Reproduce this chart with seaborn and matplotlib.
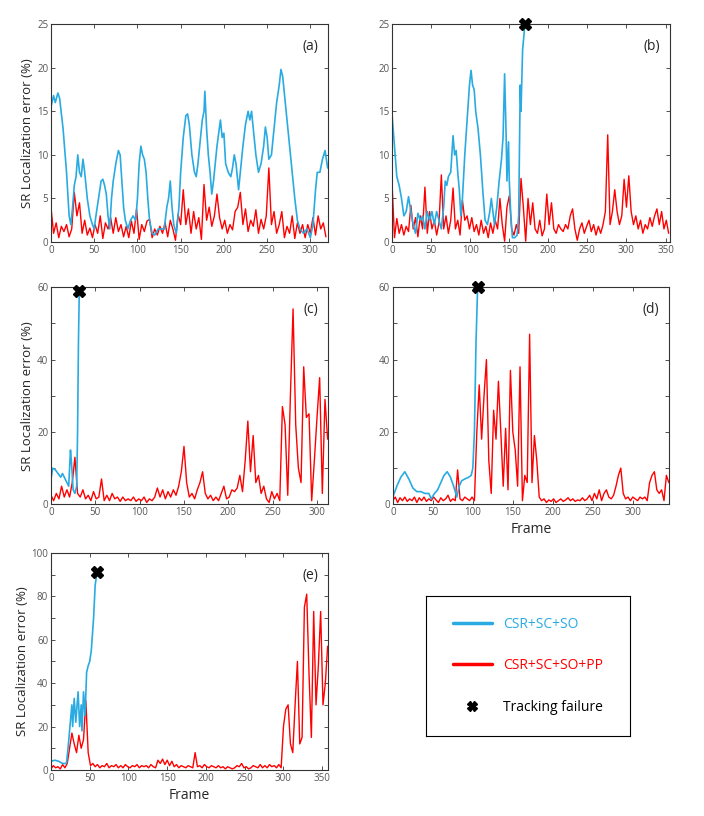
import numpy as np
import pandas as pd
import matplotlib
matplotlib.use("Agg")
import matplotlib.pyplot as plt
from matplotlib.lines import Line2D
import seaborn as sns

BLUE = "#29abe2"
RED = "#ff0000"
LABEL = "SR Localization error (%)"

# ── (a) ─────────────────────────────────────────────
a_blue_x = [0, 3, 5, 8, 10, 14, 18, 21, 23, 25, 27, 29, 31, 33, 35, 37, 39, 42, 45, 48,
            50, 52, 55, 58, 60, 62, 64, 66, 68, 70, 72, 75, 78, 80, 82, 84, 86, 89, 92, 95,
            98, 100, 102, 104, 106, 108, 110, 112, 114, 117, 120, 124, 128, 131, 134, 136, 138, 140, 142, 145,
            148, 150, 153, 156, 158, 160, 163, 166, 168, 170, 172, 175, 177, 178, 180, 182, 184, 186, 188, 190,
            192, 194, 196, 198, 200, 202, 205, 208, 210, 212, 214, 216, 217, 219, 222, 225, 228, 230, 232, 234,
            237, 240, 243, 246, 248, 250, 252, 255, 258, 261, 264, 266, 268, 270, 273, 276, 279, 282, 285, 288,
            292, 296, 300, 303, 306, 308, 311, 314, 317, 320]
a_blue_y = [15.5, 16.8, 16.0, 17.1, 16.5, 13.0, 8.0, 3.0, 2.0, 4.0, 6.5, 7.5, 10.0, 8.0, 7.5, 9.5, 8.0, 5.0, 3.0, 2.0,
            1.5, 3.0, 5.0, 7.0, 7.2, 6.5, 5.5, 3.0, 1.5, 5.0, 7.0, 9.0, 10.5, 10.0, 7.0, 4.0, 2.5, 1.5, 2.5, 3.0,
            2.5, 5.0, 9.0, 11.0, 10.0, 9.5, 8.0, 5.0, 2.5, 1.0, 0.8, 1.5, 1.5, 1.5, 4.0, 5.0, 7.0, 4.0, 2.0, 1.0,
            4.0, 8.0, 12.0, 14.5, 14.7, 13.5, 10.0, 8.0, 7.5, 9.0, 11.0, 14.0, 15.0, 17.3, 13.0, 10.0, 8.0, 5.5, 7.0, 9.0,
            11.0, 12.5, 14.0, 12.0, 12.5, 9.0, 8.0, 7.5, 8.5, 10.0, 9.0, 7.0, 6.0, 8.0, 11.0, 13.5, 15.0, 14.0, 15.0, 13.0,
            10.0, 8.0, 9.0, 11.0, 13.2, 12.0, 9.5, 10.0, 13.0, 16.0, 18.0, 19.8, 19.0, 17.0, 14.0, 11.0, 8.0, 5.0, 2.5, 1.5,
            1.0, 1.5, 0.5, 2.0, 6.0, 8.0, 8.0, 9.5, 10.5, 8.5]
a_red_y = [4.0, 1.0, 2.2, 0.5, 1.8, 1.2, 2.0, 0.6, 1.5, 5.7, 3.0, 4.5, 1.0, 2.5, 0.8, 1.6, 0.5, 2.0, 1.0, 3.0,
           0.4, 2.2, 1.5, 2.8, 1.0, 2.8, 1.2, 2.0, 0.6, 1.8, 0.5, 2.4, 1.0, 3.8, 0.3, 2.0, 1.2, 2.4, 2.6, 0.5,
           1.5, 0.8, 1.8, 1.0, 2.2, 0.6, 2.5, 1.5, 0.2, 3.2, 2.0, 6.0, 2.0, 3.8, 1.0, 3.5, 1.5, 2.8, 0.3, 6.6,
           2.5, 4.0, 1.8, 3.0, 5.5, 2.8, 1.5, 2.5, 1.0, 2.0, 1.4, 3.5, 4.0, 5.7, 2.0, 3.8, 1.2, 2.5, 1.8, 3.7,
           1.0, 2.6, 1.5, 3.0, 8.5, 2.0, 3.5, 1.0, 2.0, 3.5, 0.5, 1.8, 1.0, 3.0, 0.4, 2.2, 1.0, 2.0, 0.5, 2.0,
           1.0, 2.8, 0.8, 3.0, 1.5, 2.2, 0.6]

# ── (b) ─────────────────────────────────────────────
b_blue_x = [0, 3, 6, 9, 12, 15, 18, 21, 24, 27, 30, 33, 36, 39, 42, 45, 48, 51, 54, 57,
            60, 63, 66, 68, 70, 72, 75, 78, 80, 82, 84, 86, 88, 90, 93, 96, 99, 101, 103, 105,
            107, 110, 113, 116, 119, 122, 125, 127, 129, 131, 134, 137, 140, 142, 144, 146, 147, 149, 150, 152,
            154, 157, 160, 162, 164, 165, 167, 170]
b_blue_y = [14.5, 11.0, 7.5, 6.5, 5.0, 3.0, 3.5, 5.2, 3.5, 2.0, 1.0, 3.3, 2.5, 3.0, 1.5, 3.5, 2.5, 3.5, 2.0, 3.5,
            2.5, 1.5, 4.0, 7.0, 6.5, 7.5, 8.0, 12.2, 10.0, 10.5, 8.0, 6.0, 3.0, 5.0, 10.0, 14.0, 18.0, 19.7, 18.0, 17.5,
            15.0, 13.0, 10.0, 6.0, 2.5, 2.0, 3.5, 5.0, 3.5, 2.0, 4.0, 7.0, 9.5, 12.0, 19.3, 12.0, 7.0, 11.5, 7.0, 3.0,
            0.5, 0.5, 0.8, 3.0, 18.0, 15.0, 22.0, 25.0]
b_red_y = [6.5, 0.5, 2.7, 1.0, 2.0, 0.8, 1.8, 1.2, 4.2, 1.5, 2.8, 0.6, 3.0, 1.5, 6.3, 1.0, 3.5, 1.5, 2.5, 0.8,
           2.2, 7.7, 1.5, 3.0, 1.0, 2.5, 6.2, 1.5, 2.5, 0.8, 4.8, 2.5, 3.0, 1.5, 2.8, 1.2, 2.0, 0.8, 2.5, 1.0,
           1.8, 0.5, 2.2, 1.0, 2.5, 1.5, 5.0, 2.0, 0.1, 4.0, 5.3, 1.5, 0.8, 2.0, 1.0, 7.3, 4.0, 0.1, 5.0, 2.0,
           4.5, 1.5, 1.0, 2.5, 0.7, 1.5, 5.5, 2.0, 4.5, 1.5, 1.0, 2.0, 1.5, 1.2, 2.0, 1.5, 3.0, 3.8, 1.5, 0.2,
           1.5, 2.2, 1.0, 1.8, 2.5, 1.2, 2.0, 0.8, 1.8, 1.0, 2.0, 3.5, 12.3, 2.0, 3.5, 6.0, 3.5, 2.0, 3.0, 7.2,
           4.0, 7.6, 3.5, 2.0, 3.0, 1.5, 2.5, 1.0, 2.0, 1.5, 2.8, 1.8, 3.0, 3.8, 2.0, 3.5, 1.5, 2.5, 1.0]

# ── (c) ─────────────────────────────────────────────
c_blue_x = [0, 2, 5, 8, 11, 13, 15, 18, 20, 22, 23, 25, 27, 29, 30, 31, 32]
c_blue_y = [7.0, 10.0, 9.5, 8.5, 7.5, 8.5, 7.5, 6.0, 5.0, 15.0, 12.0, 4.0, 3.0, 5.0, 20.0, 45.0, 60.0]
c_red_y = [2.5, 1.0, 3.0, 1.5, 5.0, 2.0, 4.0, 2.0, 6.0, 13.0, 3.0, 2.0, 4.0, 1.5, 2.5, 1.0, 3.5, 1.5, 2.0, 7.0,
           1.0, 2.5, 1.0, 3.0, 1.5, 2.0, 0.8, 2.0, 1.0, 1.5, 1.0, 2.0, 0.8, 1.5, 1.0, 2.0, 0.5, 1.5, 1.0, 2.0,
           4.5, 2.0, 4.0, 1.5, 3.5, 2.0, 4.0, 2.5, 5.0, 9.0, 16.0, 6.0, 2.0, 3.0, 1.5, 4.0, 6.0, 9.0, 3.0, 1.5,
           2.5, 1.0, 2.0, 1.0, 3.0, 5.0, 1.5, 2.0, 4.0, 3.5, 4.5, 8.0, 3.5, 12.0, 23.0, 9.0, 19.0, 6.0, 8.0, 3.0,
           5.0, 1.5, 0.5, 3.5, 1.5, 3.0, 1.0, 27.0, 22.0, 2.5, 30.0, 54.0, 22.0, 10.0, 6.0, 38.0, 24.0, 25.0, 1.0, 12.0,
           24.0, 35.0, 3.0, 29.0, 18.0]

# ── (d) ─────────────────────────────────────────────
d_blue_x = [0, 5, 10, 15, 20, 25, 30, 35, 40, 45, 48, 52, 56, 60, 64, 68, 72, 76, 80, 83,
            86, 90, 95, 98, 100, 102, 104, 106]
d_blue_y = [2.0, 5.0, 7.5, 9.0, 7.0, 4.5, 3.5, 3.5, 3.0, 3.0, 1.5, 3.0, 4.0, 6.0, 8.0, 9.0, 7.5, 5.0, 2.0, 5.0,
            6.5, 7.0, 7.5, 8.0, 10.0, 20.0, 45.0, 60.0]
d_red_y = [1.0, 2.0, 0.5, 1.8, 1.0, 2.0, 0.8, 1.5, 1.0, 2.0, 0.5, 1.8, 1.0, 2.0, 0.8, 1.5, 1.0, 2.0, 1.2, 0.5,
           1.8, 1.0, 1.5, 2.5, 0.8, 1.5, 1.0, 9.5, 1.5, 1.0, 2.0, 1.5, 1.0, 2.0, 1.0, 20.0, 33.0, 18.0, 30.0, 40.0,
           12.0, 3.0, 26.0, 18.0, 34.0, 20.0, 5.0, 21.0, 4.0, 37.0, 20.0, 15.0, 5.0, 38.0, 1.0, 8.0, 6.0, 47.0, 6.0, 19.0,
           12.0, 2.0, 1.0, 1.5, 0.5, 1.2, 0.8, 1.5, 0.5, 1.0, 1.5, 0.8, 1.2, 1.8, 1.0, 1.5, 0.8, 1.2, 1.0, 1.8,
           1.0, 1.5, 2.5, 1.0, 3.0, 1.5, 4.0, 1.0, 3.0, 4.0, 2.0, 1.5, 2.5, 5.0, 8.0, 10.0, 3.0, 1.5, 2.0, 1.0,
           2.0, 1.5, 1.0, 2.0, 1.5, 2.0, 1.0, 6.0, 8.0, 9.0, 4.0, 3.0, 4.0, 1.0, 8.0, 6.0]

# ── (e) ─────────────────────────────────────────────
e_blue_x = [0, 5, 10, 15, 20, 22, 25, 27, 28, 30, 32, 35, 37, 39, 40, 42, 44, 46, 48, 50,
            52, 55, 57, 59]
e_blue_y = [4.0, 4.5, 4.0, 3.0, 3.0, 10.0, 22.0, 30.0, 20.0, 33.0, 22.0, 36.0, 20.0, 30.0, 18.0, 36.0, 25.0, 45.0, 48.0, 50.0,
            55.0, 70.0, 85.0, 90.0]
e_red_y = [0.5, 2.0, 1.0, 1.5, 0.5, 2.5, 1.0, 3.0, 10.0, 17.0, 12.0, 8.0, 16.0, 10.0, 14.0, 32.0, 8.0, 2.0, 3.0, 1.5,
           2.5, 1.0, 2.0, 1.5, 3.0, 1.0, 2.0, 1.5, 2.5, 1.0, 2.0, 1.0, 2.5, 1.5, 1.0, 2.0, 1.5, 2.5, 1.0, 2.0,
           1.5, 2.0, 1.0, 2.5, 1.5, 1.0, 4.5, 3.0, 5.0, 2.5, 4.5, 2.0, 4.0, 1.5, 2.5, 1.0, 2.0, 1.5, 1.0, 2.0,
           1.5, 1.0, 8.0, 1.5, 2.0, 1.0, 2.5, 1.5, 1.0, 2.0, 1.5, 1.0, 2.0, 1.0, 1.5, 0.5, 1.5, 1.0, 0.5, 1.0,
           2.0, 1.5, 3.0, 1.0, 1.5, 0.5, 1.0, 2.0, 1.5, 1.0, 2.5, 1.0, 2.0, 1.0, 2.5, 1.5, 2.0, 1.0, 2.5, 1.0,
           20.0, 28.0, 30.0, 12.0, 8.0, 30.0, 50.0, 12.0, 15.0, 75.0, 81.0, 44.0, 15.0, 73.0, 30.0, 48.0, 73.0, 30.0, 40.0, 57.0]

panels = [
    ("(a)", a_blue_x, a_blue_y, a_red_y, (0, 320), (0, 25), 5, 5, None),
    ("(b)", b_blue_x, b_blue_y, b_red_y, (0, 356), (0, 25), 5, 5, (170, 25)),
    ("(c)", c_blue_x, c_blue_y, c_red_y, (0, 312), (0, 60), 10, 20, (32, 59)),
    ("(d)", d_blue_x, d_blue_y, d_red_y, (0, 345), (0, 60), 10, 20, (106, 60)),
    ("(e)", e_blue_x, e_blue_y, e_red_y, (0, 357), (0, 100), 10, 20, (59, 91)),
]

# axes boxes in figure fraction [left, bottom, width, height]
boxes = [
    [0.0724, 0.7034, 0.393, 0.267],
    [0.557, 0.7034, 0.395, 0.267],
    [0.0724, 0.382, 0.393, 0.266],
    [0.558, 0.382, 0.392, 0.266],
    [0.0724, 0.0564, 0.393, 0.266],
]

sns.set_style("ticks")
plt.rcParams["font.family"] = ["Open Sans", "DejaVu Sans"]

fig = plt.figure(figsize=(7.04, 8.16), dpi=100)

for (tag, bx, by, ry, xl, yl, ystep, ylab, fail), box in zip(panels, boxes):
    ax = fig.add_axes(box)
    red_x = np.arange(len(ry)) * 3
    sns.lineplot(x=red_x, y=ry, ax=ax, color=RED, lw=1.0)
    sns.lineplot(x=bx, y=by, ax=ax, color=BLUE, lw=1.2)
    if fail is not None:
        ax.plot([fail[0]], [fail[1]], marker="X", color="black", ms=8,
                mec="black", ls="none", clip_on=False, zorder=5)
    ax.set_xlim(*xl)
    ax.set_ylim(*yl)
    ax.set_xticks(np.arange(0, xl[1] + 1, 50))
    yt = np.arange(0, yl[1] + 1, ystep)
    ax.set_yticks(yt)
    ax.set_yticklabels([f"{int(v)}" if v % ylab == 0 else "" for v in yt])
    ax.tick_params(direction="in", length=3, width=0.6, labelsize=7,
                   labelcolor="#555555", color="#333333",
                   top=True, right=True, pad=2)
    for sp in ax.spines.values():
        sp.set_color("#333333")
        sp.set_linewidth(0.8)
    ax.text(0.965, 0.93, tag, transform=ax.transAxes, ha="right", va="top", fontsize=10)
    ax.set_xlabel("")
    if tag in ("(a)", "(c)", "(e)"):
        ax.set_ylabel(LABEL, fontsize=9.5, labelpad=2)
    if tag in ("(d)", "(e)"):
        ax.set_xlabel("Frame", fontsize=10, labelpad=3)

# legend box
lax = fig.add_axes([0.605, 0.098, 0.29, 0.172])
lax.set_xticks([])
lax.set_yticks([])
for sp in lax.spines.values():
    sp.set_color("black")
    sp.set_linewidth(0.8)
handles = [
    Line2D([], [], color=BLUE, lw=2.5),
    Line2D([], [], color=RED, lw=2.5),
    Line2D([], [], color="black", marker="X", ls="none", ms=7),
]
lax.legend(handles, ["CSR+SC+SO", "CSR+SC+SO+PP", "Tracking failure"],
           loc="center", frameon=False, fontsize=10, labelspacing=1.9,
           handlelength=2.8, handletextpad=0.8,
           labelcolor=[BLUE, RED, "black"])

fig.savefig("out.png", dpi=100)
